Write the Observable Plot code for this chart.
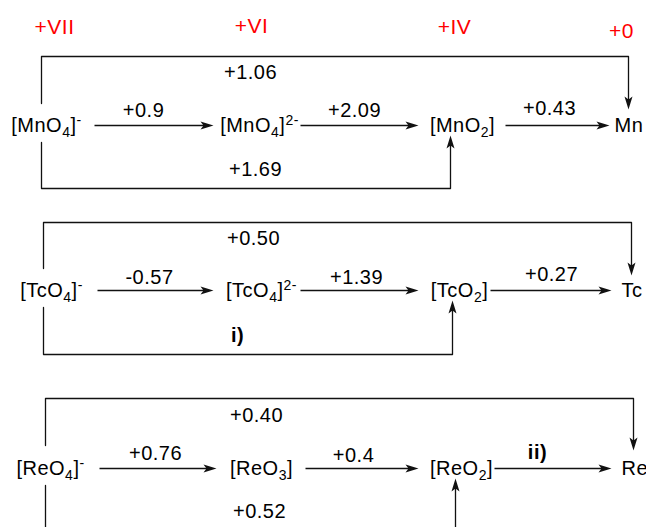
<!DOCTYPE html>
<html>
<head>
<meta charset="utf-8">
<script src="https://cdn.jsdelivr.net/npm/d3@7"></script>
<script src="https://cdn.jsdelivr.net/npm/@observablehq/plot@0.6"></script>
<style>
  html, body { margin: 0; padding: 0; background: #fff; }
  #chart svg { display: block; font-family: "Liberation Sans", Arial, sans-serif; }
</style>
</head>
<body>
<div id="chart"></div>
<script>
// ---------- data ----------
const oxidationStates = ["+VII", "+VI", "+IV", "+0"];
const elements = ["Mn", "Tc", "Re"];
const speciesMn = ["[MnO_4]^-", "[MnO_4]^{2-}", "[MnO_2]", "Mn"];
const speciesTc = ["[TcO_4]^-", "[TcO_4]^{2-}", "[TcO_2]", "Tc"];
const speciesRe = ["[ReO_4]^-", "[ReO_3]", "[ReO_2]", "Re"];
const stepsMn = ["+0.9", "+2.09", "+0.43"];
const stepsTc = ["-0.57", "+1.39", "+0.27"];
const stepsRe = ["+0.76", "+0.4", "ii)"];
const overallVIItoZero = ["+1.06", "+0.50", "+0.40"];
const overallVIItoIV = ["+1.69", "i)", "+0.52"];

const speciesRows = [speciesMn, speciesTc, speciesRe];
const stepRows = [stepsMn, stepsTc, stepsRe];

// ---------- layout (diagram geometry) ----------
const W = 646, H = 527;
const rowY = [125, 290, 468];
const topY = [56, 222, 398];
const botY = [188, 354, 531];
const leftX = [41, 43, 45];
const rightX = [628, 631, 633];
const upX = [450, 452, 455];
const leftTopEnd = [103, 268, 445];
const leftBotStart = [142, 307, 485];
const downTip = [109, 275, 450];
const upTip = [135, 300, 478];
const speciesX = [[46, 259, 462, 614], [51, 261, 459, 621], [50, 261, 461, 621]];
const arrowStart = [[94, 300, 505], [97, 300, 490], [99, 305, 494]];
const arrowEnd = [[213, 418, 609], [213, 418, 611], [216, 418, 611]];
const stepLabelX = [[143, 354, 549], [149, 356, 551], [155, 353, 537]];
const stepLabelY = [[110, 110, 108], [277, 277, 274], [453, 455, 452]];
const topLabelX = [250, 253, 256], topLabelY = [72, 238, 415];
const botLabelX = [255, 237, 259], botLabelY = [169, 335, 511];
const oxX = [54, 251, 454, 621], oxY = [27, 26, 27, 31];

// ---------- build tables ----------
const oxTable = oxidationStates.map((s, i) => ({label: s, x: oxX[i], y: oxY[i]}));
const speciesTable = [];
const stepTable = [];
const linkTable = [];
const bracketTable = [];
const headsRight = [], headsDown = [], headsUp = [];
const overallTable = [];

elements.forEach((el, r) => {
  speciesRows[r].forEach((s, c) => speciesTable.push({label: s, x: speciesX[r][c], y: rowY[r], last: c === 3}));
  stepRows[r].forEach((p, c) => {
    stepTable.push({label: p, x: stepLabelX[r][c], y: stepLabelY[r][c], bold: /\)/.test(p)});
    linkTable.push({x1: arrowStart[r][c], x2: arrowEnd[r][c] - 6, y: rowY[r]});
    headsRight.push({x: arrowEnd[r][c], y: rowY[r]});
  });
  const idT = el + "-top", idB = el + "-bot";
  bracketTable.push(
    {id: idT, x: leftX[r], y: leftTopEnd[r]},
    {id: idT, x: leftX[r], y: topY[r]},
    {id: idT, x: rightX[r], y: topY[r]},
    {id: idT, x: rightX[r], y: downTip[r] - 6},
    {id: idB, x: leftX[r], y: leftBotStart[r]},
    {id: idB, x: leftX[r], y: botY[r]},
    {id: idB, x: upX[r], y: botY[r]},
    {id: idB, x: upX[r], y: upTip[r] + 6}
  );
  headsDown.push({x: rightX[r], y: downTip[r]});
  headsUp.push({x: upX[r], y: upTip[r]});
  overallTable.push({label: overallVIItoZero[r], x: topLabelX[r], y: topLabelY[r], bold: /\)/.test(overallVIItoZero[r])});
  overallTable.push({label: overallVIItoIV[r], x: botLabelX[r], y: botLabelY[r], bold: /\)/.test(overallVIItoIV[r])});
});

// arrowhead symbols (tip at origin)
const L = 13, HW = 4, N = 10;
const headRight = {draw(ctx) { ctx.moveTo(0, 0); ctx.lineTo(-L, -HW); ctx.lineTo(-N, 0); ctx.lineTo(-L, HW); ctx.closePath(); }};
const headDown = {draw(ctx) { ctx.moveTo(0, 0); ctx.lineTo(-HW, -L); ctx.lineTo(0, -N); ctx.lineTo(HW, -L); ctx.closePath(); }};
const headUp = {draw(ctx) { ctx.moveTo(0, 0); ctx.lineTo(-HW, L); ctx.lineTo(0, N); ctx.lineTo(HW, L); ctx.closePath(); }};

const ink = "#111";
const fontSize = 20;
const textOpts = {fontSize, fill: "#000"};

const allText = [...stepTable, ...overallTable];

const chart = Plot.plot({
  width: W,
  height: H,
  margin: 0,
  x: {domain: [0, W], range: [0, W], axis: null},
  y: {domain: [0, H], range: [0, H], axis: null},
  style: {fontFamily: '"Liberation Sans", Arial, sans-serif', background: "#fff"},
  marks: [
    Plot.line(bracketTable, {x: "x", y: "y", z: "id", stroke: ink, strokeWidth: 1.3, curve: "linear"}),
    Plot.link(linkTable, {x1: "x1", x2: "x2", y1: "y", y2: "y", stroke: ink, strokeWidth: 1.3}),
    Plot.dot(headsRight, {x: "x", y: "y", symbol: headRight, fill: ink, stroke: "none", r: 5}),
    Plot.dot(headsDown, {x: "x", y: "y", symbol: headDown, fill: ink, stroke: "none", r: 5}),
    Plot.dot(headsUp, {x: "x", y: "y", symbol: headUp, fill: ink, stroke: "none", r: 5}),
    Plot.text(oxTable, {x: "x", y: "y", text: "label", fontSize: 21, fill: "#ff0000"}),
    Plot.text(speciesTable.filter(d => !d.last), {x: "x", y: "y", text: "label", ...textOpts}),
    Plot.text(speciesTable.filter(d => d.last), {x: "x", y: "y", text: "label", textAnchor: "start", ...textOpts}),
    Plot.text(allText.filter(d => !d.bold), {x: "x", y: "y", text: "label", ...textOpts}),
    Plot.text(allText.filter(d => d.bold), {x: "x", y: "y", text: "label", fontWeight: "bold", ...textOpts})
  ]
});

// rich text: _x subscript, ^x / ^{..} superscript
function parseRich(s) {
  const out = [];
  let i = 0, buf = "";
  const flush = () => { if (buf) { out.push({t: buf, k: "n"}); buf = ""; } };
  while (i < s.length) {
    const ch = s[i];
    if (ch === "_" || ch === "^") {
      flush();
      let v;
      if (s[i + 1] === "{") { const j = s.indexOf("}", i); v = s.slice(i + 2, j); i = j + 1; }
      else { v = s[i + 1]; i += 2; }
      out.push({t: v, k: ch === "_" ? "sub" : "sup"});
    } else { buf += ch; i++; }
  }
  flush();
  return out;
}
d3.select(chart).selectAll("text").each(function () {
  const s = this.textContent;
  if (!/[_^]/.test(s)) return;
  const node = d3.select(this);
  node.text(null);
  let shift = 0;
  for (const tok of parseRich(s)) {
    const target = tok.k === "sub" ? 5 : tok.k === "sup" ? -7 : 0;
    const ts = node.append("tspan").text(tok.t).attr("dy", target - shift);
    if (tok.k !== "n") ts.attr("font-size", 14);
    shift = target;
  }
});

// letter spacing to match the wider reference typeface
d3.select(chart).selectAll("text").attr("letter-spacing", "0.5px");

document.getElementById("chart").appendChild(chart);
</script>
</body>
</html>
